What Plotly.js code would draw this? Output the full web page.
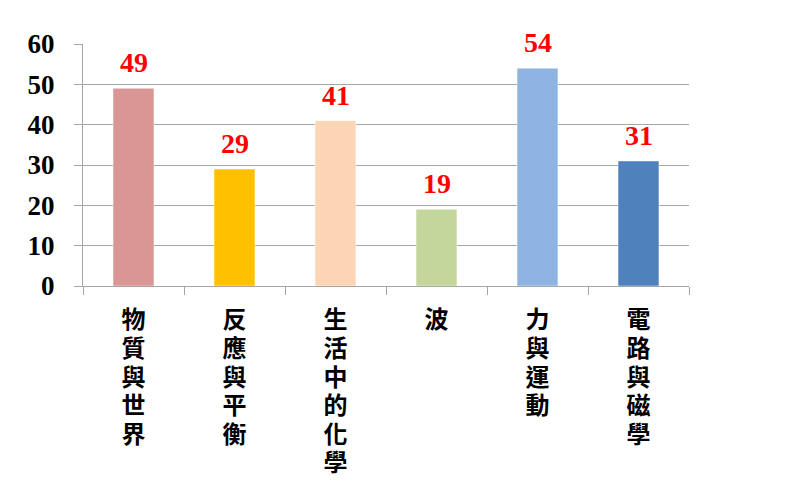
<!DOCTYPE html>
<html>
<head>
<meta charset="utf-8">
<script src="https://cdn.plot.ly/plotly-3.0.1.min.js"></script>
<style>
  html, body { margin: 0; padding: 0; background: #fff; }
  #chart { width: 798px; height: 486px; }
</style>
</head>
<body>
<div id="chart"></div>
<script>
const categories = ['物質與世界', '反應與平衡', '生活中的化學', '波', '力與運動', '電路與磁學']
const counts = [49, 29, 41, 19, 54, 31]
const barColors = ['#D99694', '#FFC000', '#FCD5B5', '#C3D69B', '#8EB4E3', '#4F81BD']
const yTicks = [0, 10, 20, 30, 40, 50, 60]

// labels are written top-to-bottom, one character per line;
// glyphs a bit larger than the line pitch so the column stays tight
const stacked = categories.map(c =>
  Array.from(c).map(ch => `<span style="font-size:24px">${ch}</span>`).join('<br>'))

const data = [{
  type: 'bar',
  x: categories,
  y: counts,
  marker: {
    color: barColors,
    line: { color: 'rgba(255,255,255,0.45)', width: 1 },
  },
  hoverinfo: 'skip',
}]

const annotations = categories.map((c, i) => ({
  x: c,
  y: counts[i],
  xref: 'x',
  yref: 'y',
  text: String(counts[i]),
  showarrow: false,
  yanchor: 'bottom',
  yshift: 8,
  font: { family: 'Liberation Serif, Times New Roman, serif', size: 28, color: '#FF0000', weight: 'bold' },
}))

const layout = {
  width: 798,
  height: 486,
  paper_bgcolor: '#fff',
  plot_bgcolor: '#fff',
  showlegend: false,
  bargap: 0.595,
  margin: { l: 83, r: 109, t: 44, b: 200 },
  xaxis: {
    type: 'category',
    tickvals: categories,
    ticktext: stacked,
    tickson: 'boundaries',
    ticks: 'outside',
    ticklen: 8,
    tickcolor: '#A6A6A6',
    showline: true,
    linecolor: '#A6A6A6',
    linewidth: 1,
    showgrid: false,
    tickangle: 0,
    ticklabelstandoff: 15,
    tickfont: { family: 'Noto Sans CJK TC, sans-serif', size: 22, color: '#000', weight: 'bold' },
    automargin: false,
  },
  yaxis: {
    range: [0, 60],
    tickvals: yTicks,
    ticks: 'outside',
    ticklen: 8,
    tickcolor: '#A6A6A6',
    showline: true,
    linecolor: '#A6A6A6',
    linewidth: 1,
    showgrid: true,
    gridcolor: '#A6A6A6',
    gridwidth: 1,
    zeroline: false,
    ticklabelstandoff: 14,
    tickfont: { family: 'Liberation Serif, Times New Roman, serif', size: 27, color: '#000', weight: 'bold' },
    automargin: false,
  },
  annotations,
}

Plotly.newPlot('chart', data, layout, { displayModeBar: false, staticPlot: true })
</script>
</body>
</html>
